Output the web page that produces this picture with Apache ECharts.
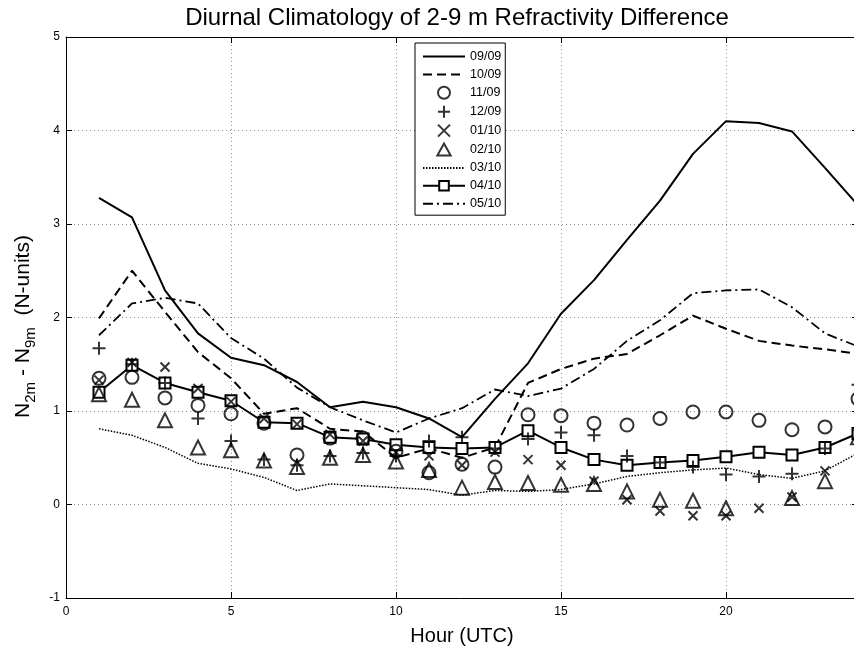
<!DOCTYPE html>
<html>
<head>
<meta charset="utf-8">
<script src="https://cdn.jsdelivr.net/npm/echarts@6/dist/echarts.min.js"></script>
<style>
  html, body { margin: 0; padding: 0; background: #fff; }
  #chart { width: 854px; height: 647px; }
</style>
</head>
<body>
<div id="chart"></div>
<script>
// Hour of day (UTC)
const hours = [1, 2, 3, 4, 5, 6, 7, 8, 9, 10, 11, 12, 13, 14, 15, 16, 17, 18, 19, 20, 21, 22, 23, 24];

// Monthly mean N(2m) - N(9m), N-units
const m0909 = [3.28, 3.07, 2.29, 1.83, 1.57, 1.49, 1.31, 1.04, 1.10, 1.04, 0.92, 0.72, 1.13, 1.51, 2.04, 2.40, 2.83, 3.25, 3.75, 4.10, 4.08, 3.99, 3.60, 3.20];
const m1009 = [1.99, 2.50, 2.06, 1.63, 1.35, 0.97, 1.03, 0.81, 0.78, 0.50, 0.60, 0.50, 0.61, 1.30, 1.45, 1.56, 1.61, 1.81, 2.02, 1.88, 1.75, 1.70, 1.66, 1.61];
const m1109 = [1.35, 1.36, 1.14, 1.06, 0.97, 0.87, 0.53, 0.71, 0.71, 0.57, 0.34, 0.43, 0.40, 0.96, 0.95, 0.87, 0.85, 0.92, 0.99, 0.99, 0.90, 0.80, 0.83, 1.13];
const m1209 = [1.67, 1.50, 1.30, 0.92, 0.68, 0.48, 0.42, 0.52, 0.55, 0.52, 0.68, 0.72, 0.60, 0.70, 0.77, 0.74, 0.52, 0.45, 0.40, 0.32, 0.30, 0.33, 0.60, 1.28];
const m0110 = [1.33, 1.52, 1.47, 1.24, 1.10, 0.92, 0.86, 0.75, 0.68, 0.56, 0.52, 0.42, 0.56, 0.48, 0.42, 0.25, 0.05, -0.07, -0.12, -0.12, -0.04, 0.08, 0.36, 0.75];
const m0210 = [1.18, 1.12, 0.90, 0.61, 0.58, 0.47, 0.40, 0.50, 0.53, 0.46, 0.37, 0.18, 0.24, 0.23, 0.21, 0.22, 0.14, 0.05, 0.04, -0.04, null, 0.07, 0.25, 0.72];
const m0310 = [0.81, 0.74, 0.61, 0.44, 0.38, 0.29, 0.15, 0.22, 0.20, 0.18, 0.16, 0.10, 0.15, 0.14, 0.16, 0.22, 0.30, 0.34, 0.37, 0.39, 0.32, 0.28, 0.36, 0.55];
const m0410 = [1.20, 1.49, 1.30, 1.20, 1.11, 0.88, 0.87, 0.72, 0.70, 0.64, 0.61, 0.60, 0.61, 0.79, 0.61, 0.48, 0.42, 0.45, 0.47, 0.51, 0.56, 0.53, 0.61, 0.76];
const m0510 = [1.81, 2.15, 2.21, 2.15, 1.78, 1.56, 1.25, 1.04, 0.90, 0.77, 0.92, 1.03, 1.23, 1.16, 1.24, 1.45, 1.75, 1.97, 2.26, 2.29, 2.30, 2.11, 1.83, 1.69];

const xTicks = [0, 5, 10, 15, 20];
const yTicks = [-1, 0, 1, 2, 3, 4, 5];

const FONT = '"Liberation Sans", Arial, Helvetica, sans-serif';
const pairs = vals => hours.map((h, i) => [h, vals[i]]);

const PLUS = 'path://M0,5H10M5,0V10';
const CROSS = 'path://M0,0L10,10M10,0L0,10';

// plain line: no point symbols, and an invisible symbol in the legend
function lineSeries(name, vals, dash, width) {
  return {
    name, type: 'line', data: pairs(vals),
    symbol: 'circle', showSymbol: false, symbolSize: 0,
    lineStyle: { color: '#000', width: width, type: dash },
    itemStyle: { color: 'rgba(0,0,0,0)', borderWidth: 0 },
    emphasis: { disabled: true },
    z: 3, animation: false
  };
}
function markerSeries(name, vals, symbol, size) {
  return {
    name, type: 'scatter', data: pairs(vals), symbol, symbolSize: size,
    itemStyle: { color: 'rgba(0,0,0,0)', borderColor: '#000', borderWidth: 2 },
    z: 4, animation: false
  };
}

const chart = echarts.init(document.getElementById('chart'), null, { renderer: 'canvas' });

const gridLine = { show: true, lineStyle: { color: '#8c8c8c', width: 1, type: [1, 3] } };
const boxAxisLine = { show: true, onZero: false, lineStyle: { color: '#000', width: 1 } };
const inTick = { show: true, inside: true, length: 6, lineStyle: { color: '#000' } };

chart.setOption({
  backgroundColor: '#fff',
  animation: false,
  textStyle: { fontFamily: FONT, color: '#000' },
  graphic: [{
    type: 'text', z: 10, x: 457, y: 6,
    style: {
      text: 'Diurnal Climatology of 2-9 m Refractivity Difference',
      fontSize: 24, fontFamily: FONT, fill: '#000', align: 'center', verticalAlign: 'top'
    }
  }],
  grid: { left: 66, top: 37, width: 792, height: 561, containLabel: false, outerBoundsMode: 'none' },
  legend: {
    orient: 'vertical', left: 415, top: 43,
    itemWidth: 42, itemHeight: 12, itemGap: 4.9,
    padding: [7, 4, 5, 7],
    backgroundColor: '#fff', borderColor: '#000', borderWidth: 1,
    textStyle: { fontSize: 12.5, fontFamily: FONT, color: '#000' },
    data: ['09/09', '10/09', '11/09', '12/09', '01/10', '02/10', '03/10', '04/10', '05/10']
  },
  xAxis: [{
    type: 'value', min: 0, max: 24, interval: 5, position: 'bottom',
    name: 'Hour (UTC)', nameLocation: 'middle', nameGap: 28,
    nameTextStyle: { fontSize: 20, fontFamily: FONT, color: '#000' },
    axisLine: boxAxisLine, axisTick: inTick,
    axisLabel: {
      fontSize: 12, color: '#000', margin: 8, fontFamily: FONT,
      formatter: v => (xTicks.indexOf(v) >= 0 ? String(v) : '')
    },
    splitLine: gridLine
  }, {
    type: 'value', min: 0, max: 24, interval: 5, position: 'top',
    axisLine: boxAxisLine, axisTick: inTick,
    axisLabel: { show: false }, splitLine: { show: false }
  }],
  yAxis: [{
    type: 'value', min: -1, max: 5, interval: 1, position: 'left',
    name: '{n|N}{s|2m}{n| - N}{s|9m}{n|  (N-units)}{e|}',
    nameLocation: 'middle', nameGap: 24, nameRotate: 90,
    nameTextStyle: {
      fontFamily: FONT, color: '#000',
      rich: {
        n: { fontSize: 21, fontFamily: FONT, color: '#000', lineHeight: 30, verticalAlign: 'middle' },
        s: { fontSize: 15, fontFamily: FONT, color: '#000', lineHeight: 30, verticalAlign: 'bottom' },
        e: { width: 18, lineHeight: 30 }
      }
    },
    axisLine: boxAxisLine, axisTick: inTick,
    axisLabel: {
      fontSize: 12, color: '#000', margin: 6, fontFamily: FONT,
      formatter: v => (yTicks.indexOf(v) >= 0 ? String(v) : '')
    },
    splitLine: gridLine
  }, {
    type: 'value', min: -1, max: 5, interval: 1, position: 'right',
    axisLine: boxAxisLine, axisTick: inTick,
    axisLabel: { show: false }, splitLine: { show: false }
  }],
  series: [
    lineSeries('09/09', m0909, 'solid', 2),
    lineSeries('10/09', m1009, [9, 5], 2),
    markerSeries('11/09', m1109, 'circle', 13),
    markerSeries('12/09', m1209, PLUS, 13),
    markerSeries('01/10', m0110, CROSS, 9),
    markerSeries('02/10', m0210, 'path://M5,0L10,9L0,9Z', 14),
    lineSeries('03/10', m0310, [1.5, 1.5], 1.5),
    {
      name: '04/10', type: 'line', data: pairs(m0410),
      symbol: 'rect', symbolSize: 11, showAllSymbol: true,
      lineStyle: { color: '#000', width: 2 },
      itemStyle: { color: '#fff', borderColor: '#000', borderWidth: 2 },
      emphasis: { disabled: true },
      z: 3, animation: false
    },
    lineSeries('05/10', m0510, [10, 4, 2, 4], 1.8)
  ]
});
</script>
</body>
</html>
